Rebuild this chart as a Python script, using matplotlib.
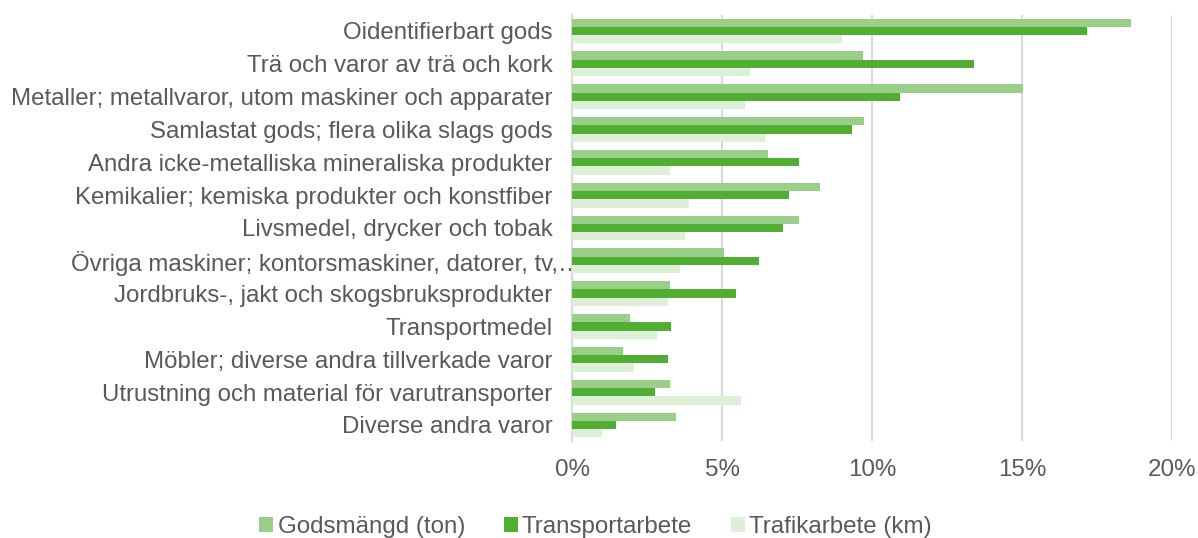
import numpy as np
import matplotlib.pyplot as plt
from matplotlib.transforms import ScaledTranslation

plt.rcParams['font.family'] = ['Liberation Sans', 'DejaVu Sans']

categories = [
    'Oidentifierbart gods',
    'Trä och varor av trä och kork',
    'Metaller; metallvaror, utom maskiner och apparater',
    'Samlastat gods; flera olika slags gods',
    'Andra icke-metalliska mineraliska produkter',
    'Kemikalier; kemiska produkter och konstfiber',
    'Livsmedel, drycker och tobak',
    'Övriga maskiner; kontorsmaskiner, datorer, tv,…',
    'Jordbruks-, jakt och skogsbruksprodukter',
    'Transportmedel',
    'Möbler; diverse andra tillverkade varor',
    'Utrustning och material för varutransporter',
    'Diverse andra varor',
]
godsmangd = [18.64, 9.70, 15.04, 9.73, 6.52, 8.26, 7.55, 5.05, 3.25, 1.92, 1.70, 3.25, 3.46]
transportarbete = [17.17, 13.39, 10.94, 9.32, 7.57, 7.24, 7.02, 6.24, 5.47, 3.30, 3.20, 2.76, 1.47]
trafikarbete = [9.01, 5.93, 5.78, 6.42, 3.28, 3.89, 3.78, 3.61, 3.21, 2.83, 2.08, 5.62, 1.00]
series_names = ['Godsmängd (ton)', 'Transportarbete', 'Trafikarbete (km)']
colors = ['#99CF87', '#52AE32', '#DDEFD7']
text_col = '#595959'

fig = plt.figure(figsize=(11.98, 5.38), dpi=100)
ax = fig.add_axes([0.4775, 0.1796, 0.5008, 0.7933])

y = np.arange(len(categories))
h = 0.253
for i, (vals, name) in enumerate(zip([godsmangd, transportarbete, trafikarbete], series_names)):
    ax.barh(y + (i - 1) * h, np.array(vals) / 100, height=h, color=colors[i],
            label=name, zorder=3)

ax.set_ylim(len(categories) - 0.5, -0.5)
ax.set_xlim(0, 0.2)
ax.set_xticks([0, 0.05, 0.10, 0.15, 0.20])
ax.set_xticklabels(['0%', '5%', '10%', '15%', '20%'])
ax.set_yticks(y)
ax.set_yticklabels(categories)
ax.tick_params(axis='y', length=0, pad=14, labelsize=17.3, labelcolor=text_col)
ax.tick_params(axis='x', length=0, pad=13, labelsize=17.4, labelcolor=text_col)
ax.grid(axis='x', color='#D9D9D9', linewidth=1.5, zorder=0)
for s in ['top', 'right', 'bottom']:
    ax.spines[s].set_visible(False)
ax.spines['left'].set_color('#D9D9D9')
ax.spines['left'].set_linewidth(1.5)

# the truncated label sits a bit further right in the original
lab = ax.get_yticklabels()[7]
lab.set_transform(lab.get_transform() + ScaledTranslation(29 / 100, 0, fig.dpi_scale_trans))

fig.legend(loc='center', bbox_to_anchor=(0.497, 0.021), ncol=3, frameon=False,
           fontsize=17.4, labelcolor=text_col, handlelength=0.58, handleheight=0.58,
           handletextpad=0.17, columnspacing=1.6)

plt.savefig('out.png', dpi=100)
